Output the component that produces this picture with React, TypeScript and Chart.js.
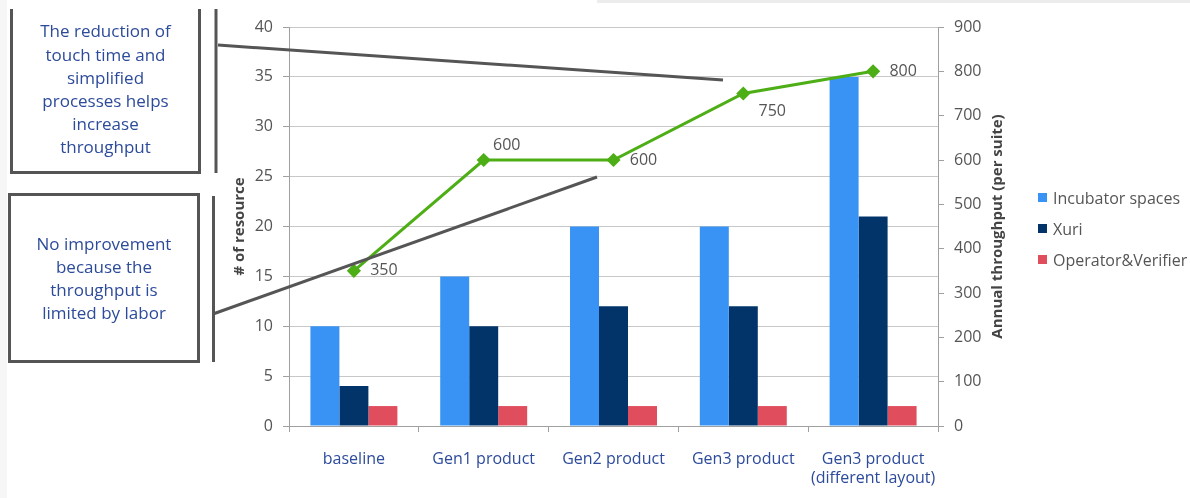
import React, { useEffect, useRef } from 'react';
import { Chart, registerables } from 'chart.js';

Chart.register(...registerables);

// ---- data ----
const categories: (string | string[])[] = [
  'baseline',
  'Gen1 product',
  'Gen2 product',
  'Gen3 product',
  ['Gen3 product', '(different layout)'],
];
const incubatorSpaces = [10, 15, 20, 20, 35];
const xuri = [4, 10, 12, 12, 21];
const operatorVerifier = [2, 2, 2, 2, 2];
const annualThroughput = [350, 600, 600, 750, 800];

const seriesNames = ['Incubator spaces', 'Xuri', 'Operator&Verifier'];
const seriesColors = ['#3893F5', '#02346A', '#E04E5E'];
const lineColor = '#4DAE16';

const leftAxisTitle = '# of resource';
const rightAxisTitle = 'Annual throughput (per suite)';
const noteTop = ['The reduction of', 'touch time and', 'simplified', 'processes helps', 'increase', 'throughput'];
const noteBottom = ['No improvement', 'because the', 'throughput is', 'limited by labor'];

// label offsets for the throughput values (style only)
const labelOffsets: [number, number][] = [
  [30, 0],
  [23, -15],
  [30, 0],
  [29, 18],
  [30, 0],
];

const FONT = '"Open Sans", "Noto Sans", sans-serif';
const TEXT_BLUE = '#2D4B9B';
const TICK_GREY = '#555555';
const AXIS_GREY = '#A0A0A0';
const GRID_GREY = '#C8C8C8';

const extrasPlugin = {
  id: 'extras',
  afterDatasetsDraw(chart: any) {
    const ctx = chart.ctx;
    const meta = chart.getDatasetMeta(3);
    ctx.save();
    ctx.font = `16px ${FONT}`;
    ctx.fillStyle = TICK_GREY;
    ctx.textAlign = 'center';
    ctx.textBaseline = 'middle';
    meta.data.forEach((pt: any, i: number) => {
      const [dx, dy] = labelOffsets[i];
      ctx.fillText(String(annualThroughput[i]), pt.x + dx, pt.y + dy);
    });
    ctx.restore();
  },
  afterDraw(chart: any) {
    const ctx = chart.ctx;
    const s = chart.scales.y1;
    ctx.save();
    ctx.font = `bold 15px ${FONT}`;
    ctx.fillStyle = '#444444';
    ctx.textAlign = 'center';
    ctx.textBaseline = 'middle';
    ctx.translate(s.left + 60, (s.top + s.bottom) / 2);
    ctx.rotate(-Math.PI / 2);
    ctx.fillText(rightAxisTitle, 0, 0);
    ctx.restore();
  },
};

export default function App() {
  const ref = useRef<HTMLCanvasElement>(null);

  useEffect(() => {
    const chart = new Chart(ref.current as HTMLCanvasElement, {
      type: 'bar',
      data: {
        labels: categories as any,
        datasets: [
          {
            label: seriesNames[0],
            data: incubatorSpaces,
            backgroundColor: seriesColors[0],
            order: 1,
            yAxisID: 'y',
          },
          {
            label: seriesNames[1],
            data: xuri,
            backgroundColor: seriesColors[1],
            order: 1,
            yAxisID: 'y',
          },
          {
            label: seriesNames[2],
            data: operatorVerifier,
            backgroundColor: seriesColors[2],
            order: 1,
            yAxisID: 'y',
          },
          {
            type: 'line',
            label: 'Annual throughput',
            data: annualThroughput,
            borderColor: lineColor,
            backgroundColor: lineColor,
            borderWidth: 3,
            pointStyle: 'rectRot',
            pointRadius: 5,
            pointBackgroundColor: lineColor,
            pointBorderColor: lineColor,
            tension: 0,
            order: 0,
            yAxisID: 'y1',
          } as any,
        ],
      },
      options: {
        responsive: false,
        animation: false,
        devicePixelRatio: 1,
        font: { family: FONT },
        layout: { padding: { left: 220, right: 172, top: 27, bottom: 0 } },
        datasets: {
          bar: { categoryPercentage: 0.67, barPercentage: 1.0 },
        },
        plugins: {
          legend: { display: false },
          tooltip: { enabled: false },
          title: { display: false },
        },
        scales: {
          x: {
            type: 'category',
            offset: true,
            grid: {
              offset: true,
              drawOnChartArea: false,
              drawTicks: true,
              tickLength: 6,
              color: AXIS_GREY,
            },
            border: { color: AXIS_GREY, width: 1 },
            ticks: {
              color: TEXT_BLUE,
              font: { family: FONT, size: 16 },
              padding: 18,
              maxRotation: 0,
              autoSkip: false,
            },
            afterFit(scale: any) {
              scale.height = 72;
            },
          },
          y: {
            position: 'left',
            min: 0,
            max: 40,
            ticks: {
              stepSize: 5,
              color: TICK_GREY,
              font: { family: FONT, size: 16 },
              padding: 10,
            },
            grid: {
              color: GRID_GREY,
              tickLength: 6,
              tickColor: AXIS_GREY,
            },
            border: { color: AXIS_GREY, width: 1 },
            title: {
              display: true,
              text: leftAxisTitle,
              color: '#444444',
              font: { family: FONT, size: 15, weight: 'bold' },
              padding: { top: 11, bottom: 0 },
            },
            afterFit(scale: any) {
              scale.width = 69;
            },
          },
          y1: {
            position: 'right',
            min: 0,
            max: 900,
            ticks: {
              stepSize: 100,
              color: TICK_GREY,
              font: { family: FONT, size: 16 },
              padding: 10,
            },
            grid: {
              drawOnChartArea: false,
              tickLength: 6,
              color: AXIS_GREY,
            },
            border: { color: AXIS_GREY, width: 1 },
            afterFit(scale: any) {
              scale.width = 80;
            },
          },
        },
      } as any,
      plugins: [extrasPlugin],
    });
    return () => chart.destroy();
  }, []);

  const noteText: React.CSSProperties = {
    fontFamily: FONT,
    fontSize: 17,
    lineHeight: '23.2px',
    color: TEXT_BLUE,
    textAlign: 'center',
  };

  return (
    <div
      style={{
        position: 'absolute',
        left: 0,
        top: 0,
        width: 1190,
        height: 498,
        overflow: 'hidden',
        background: '#ffffff',
      }}
    >
      <div style={{ position: 'absolute', left: 0, top: 0, width: 7, height: 498, background: '#f6f6f6' }} />
      <div style={{ position: 'absolute', left: 597, top: 0, width: 593, height: 3, background: '#ececec' }} />
      <canvas
        ref={ref}
        width={1190}
        height={498}
        style={{ position: 'absolute', left: 0, top: 0, width: 1190, height: 498, display: 'block' }}
      />
      {/* note boxes */}
      <div
        style={{
          position: 'absolute',
          left: 10,
          top: 9,
          width: 191,
          height: 165,
          boxSizing: 'border-box',
          borderLeft: '3px solid #555',
          borderRight: '3px solid #555',
          borderBottom: '3px solid #555',
          display: 'flex',
          flexDirection: 'column',
          justifyContent: 'center',
          alignItems: 'center',
          paddingBottom: 2,
        }}
      >
        {noteTop.map((t, i) => (
          <div key={i} style={noteText}>{t}</div>
        ))}
      </div>
      <div
        style={{
          position: 'absolute',
          left: 8,
          top: 193,
          width: 192,
          height: 170,
          boxSizing: 'border-box',
          border: '3px solid #555',
          display: 'flex',
          flexDirection: 'column',
          justifyContent: 'center',
          alignItems: 'center',
        }}
      >
        {noteBottom.map((t, i) => (
          <div key={i} style={noteText}>{t}</div>
        ))}
      </div>
      {/* legend */}
      <div style={{ position: 'absolute', left: 1038, top: 186 }}>
        {seriesNames.map((n, i) => (
          <div key={i} style={{ display: 'flex', alignItems: 'center', height: 31 }}>
            <div style={{ width: 9, height: 9, background: seriesColors[i], marginRight: 6, marginTop: -8 }} />
            <div style={{ fontFamily: FONT, fontSize: 16, color: TICK_GREY, marginTop: -8, whiteSpace: 'nowrap' }}>{n}</div>
          </div>
        ))}
      </div>
      {/* annotation lines */}
      <svg
        width={1190}
        height={498}
        style={{ position: 'absolute', left: 0, top: 0, pointerEvents: 'none' }}
      >
        <line x1={216} y1={9} x2={216} y2={173} stroke="#555" strokeWidth={3} />
        <line x1={213.5} y1={196} x2={213.5} y2={362} stroke="#555" strokeWidth={3} />
        <line x1={218} y1={45} x2={723} y2={80} stroke="#555" strokeWidth={3} />
        <line x1={213} y1={314} x2={597} y2={177} stroke="#555" strokeWidth={3} />
      </svg>
    </div>
  );
}
